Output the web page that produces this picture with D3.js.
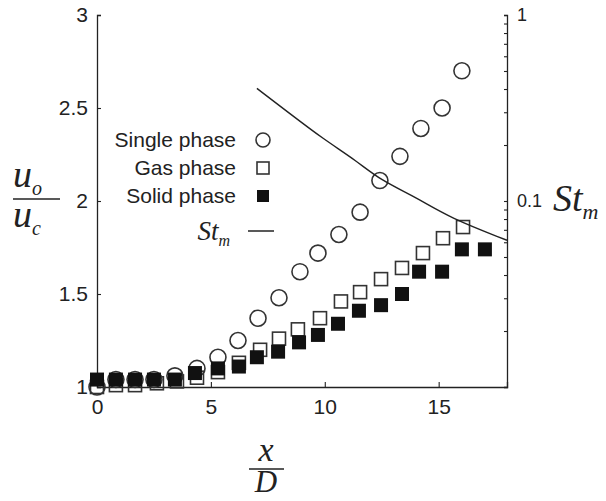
<!DOCTYPE html>
<html>
<head>
<meta charset="utf-8">
<script src="https://cdn.jsdelivr.net/npm/d3@7"></script>
<style>
body { margin: 0; background: #fff; }
svg { display: block; }
</style>
</head>
<body>
<svg id="chart" width="606" height="501"></svg>
<script>
// values
const singleX = [0, 0.83, 1.67, 2.5, 3.42, 4.39, 5.31, 6.19, 7.07, 7.99, 8.91, 9.70, 10.62, 11.55, 12.42, 13.30, 14.22, 15.15, 16.02]
const singleY = [1.0, 1.04, 1.04, 1.04, 1.06, 1.10, 1.16, 1.25, 1.37, 1.48, 1.62, 1.72, 1.82, 1.94, 2.11, 2.24, 2.39, 2.50, 2.70]
const gasX = [0, 0.83, 1.67, 2.63, 3.51, 4.39, 5.31, 6.23, 7.16, 7.99, 8.82, 9.79, 10.71, 11.55, 12.47, 13.39, 14.31, 15.19, 16.07]
const gasY = [1.0, 1.01, 1.01, 1.02, 1.03, 1.05, 1.08, 1.13, 1.20, 1.26, 1.31, 1.37, 1.46, 1.51, 1.58, 1.64, 1.72, 1.80, 1.86]
const solidX = [0, 0.83, 1.67, 2.50, 3.42, 4.30, 5.31, 6.23, 7.02, 7.95, 8.87, 9.70, 10.58, 11.50, 12.47, 13.39, 14.14, 15.15, 16.02, 17.03]
const solidY = [1.04, 1.04, 1.04, 1.04, 1.04, 1.075, 1.10, 1.11, 1.16, 1.19, 1.24, 1.28, 1.34, 1.41, 1.44, 1.50, 1.62, 1.62, 1.74, 1.74]
const stmX = [7.02, 8.47, 9.92, 11.41, 12.42, 14.05, 15.50, 18.0]
const stmY = [0.403, 0.295, 0.216, 0.164, 0.130, 0.104, 0.081, 0.0615]
const xTicks = [0, 5, 10, 15]
const yTicks = [1, 1.5, 2, 2.5, 3]
const stTickLabels = [1, 0.1]
const legendNames = ["Single phase", "Gas phase", "Solid phase"]

const sans = "'Liberation Sans', Arial, sans-serif"
const serif = "'Liberation Serif', 'Times New Roman', serif"
const ink = "#222"

svg = d3.select("#chart")

const x = d3.scaleLinear().domain([0, 18]).range([97, 507])
const y = d3.scaleLinear().domain([1, 3]).range([387, 15])
const yr = d3.scaleLog().domain([0.01, 1]).range([387, 15])

// axes
const xAxis = d3.axisBottom(x).tickValues(xTicks).tickSize(-5).tickPadding(12).tickFormat(d3.format("d"))
svg.append("g").attr("class", "xax").attr("transform", "translate(0,387)").call(xAxis)
const yAxis = d3.axisLeft(y).tickValues(yTicks).tickSize(-4).tickPadding(9).tickFormat(d => d)
svg.append("g").attr("class", "yax").attr("transform", "translate(97,0)").call(yAxis)
const minor = []
;[0.01, 0.1].forEach(dec => { for (let k = 1; k < 10; k++) minor.push(dec * k) })
minor.push(1)
const rAxis = d3.axisRight(yr).tickValues(minor).tickSize(-3).tickPadding(10)
  .tickFormat(d => stTickLabels.some(v => Math.abs(v - d) < 1e-9) ? d : "")
svg.append("g").attr("class", "rax").attr("transform", "translate(507,0)").call(rAxis)

svg.selectAll(".domain").attr("stroke", ink).attr("stroke-width", 1.3)
svg.selectAll(".tick line").attr("stroke", ink).attr("stroke-width", 1.1)
svg.selectAll(".tick text").attr("font-family", sans).attr("font-size", 21).attr("fill", ink)
svg.select(".rax").selectAll(".tick text").attr("font-size", 18)

// markers
const single = singleX.map((d, i) => ({x: d, y: singleY[i]}))
const gas = gasX.map((d, i) => ({x: d, y: gasY[i]}))
const solid = solidX.map((d, i) => ({x: d, y: solidY[i]}))

svg.append("g").selectAll("circle").data(single).join("circle")
  .attr("cx", d => x(d.x)).attr("cy", d => y(d.y)).attr("r", 8)
  .attr("fill", "none").attr("stroke", "#333").attr("stroke-width", 1.6)
svg.append("g").selectAll("rect").data(gas).join("rect")
  .attr("x", d => x(d.x) - 6.5).attr("y", d => y(d.y) - 6.5).attr("width", 13).attr("height", 13)
  .attr("fill", "none").attr("stroke", "#333").attr("stroke-width", 1.6)
svg.append("g").selectAll("rect").data(solid).join("rect")
  .attr("x", d => x(d.x) - 7).attr("y", d => y(d.y) - 7).attr("width", 14).attr("height", 14)
  .attr("fill", "#111")

// St_m curve
const stm = stmX.map((d, i) => ({x: d, y: stmY[i]}))
const line = d3.line().x(d => x(d.x)).y(d => yr(d.y)).curve(d3.curveBasis)
svg.append("path").attr("d", line(stm)).attr("fill", "none").attr("stroke", ink).attr("stroke-width", 1.4)

// legend
const lg = svg.append("g")
legendNames.forEach((name, i) => {
  lg.append("text").attr("x", 236).attr("y", 140 + i * 28).attr("dy", "0.35em")
    .attr("text-anchor", "end").attr("font-family", sans).attr("font-size", 21).attr("fill", ink).text(name)
})
lg.append("circle").attr("cx", 263).attr("cy", 140).attr("r", 7)
  .attr("fill", "none").attr("stroke", "#333").attr("stroke-width", 1.6)
lg.append("rect").attr("x", 257).attr("y", 162).attr("width", 12).attr("height", 12)
  .attr("fill", "none").attr("stroke", "#333").attr("stroke-width", 1.6)
lg.append("rect").attr("x", 257).attr("y", 190).attr("width", 12).attr("height", 12).attr("fill", "#111")
const lgSt = lg.append("text").attr("x", 230).attr("y", 240).attr("text-anchor", "end")
  .attr("font-family", serif).attr("font-style", "italic").attr("font-size", 27).attr("fill", ink)
lgSt.append("tspan").text("St")
lgSt.append("tspan").attr("font-size", 16).attr("dy", 6).text("m")
lg.append("line").attr("x1", 248).attr("x2", 274).attr("y1", 231).attr("y2", 231)
  .attr("stroke", ink).attr("stroke-width", 1.5)

// left axis title u_o / u_c
const yt = svg.append("g").attr("font-family", serif).attr("font-style", "italic").attr("fill", ink)
const uo = yt.append("text").attr("x", 13).attr("y", 187).attr("font-size", 38)
uo.append("tspan").text("u")
uo.append("tspan").attr("font-size", 20).attr("dy", 8).text("o")
yt.append("line").attr("x1", 13).attr("x2", 60).attr("y1", 199).attr("y2", 199).attr("stroke", ink).attr("stroke-width", 1.5)
const uc = yt.append("text").attr("x", 13).attr("y", 227).attr("font-size", 38)
uc.append("tspan").text("u")
uc.append("tspan").attr("font-size", 20).attr("dy", 8).text("c")

// right axis title St_m
const rt = svg.append("text").attr("x", 553).attr("y", 211).attr("font-family", serif)
  .attr("font-style", "italic").attr("font-size", 38).attr("fill", ink)
rt.append("tspan").text("St")
rt.append("tspan").attr("font-size", 22).attr("dy", 8).text("m")

// bottom axis title x / D
const xt = svg.append("g").attr("font-family", serif).attr("font-style", "italic").attr("fill", ink)
  .attr("text-anchor", "middle")
xt.append("text").attr("x", 266).attr("y", 461).attr("font-size", 34).text("x")
xt.append("line").attr("x1", 249).attr("x2", 284).attr("y1", 469).attr("y2", 469).attr("stroke", ink).attr("stroke-width", 1.5)
xt.append("text").attr("x", 266).attr("y", 492).attr("font-size", 31).text("D")
</script>
</body>
</html>
